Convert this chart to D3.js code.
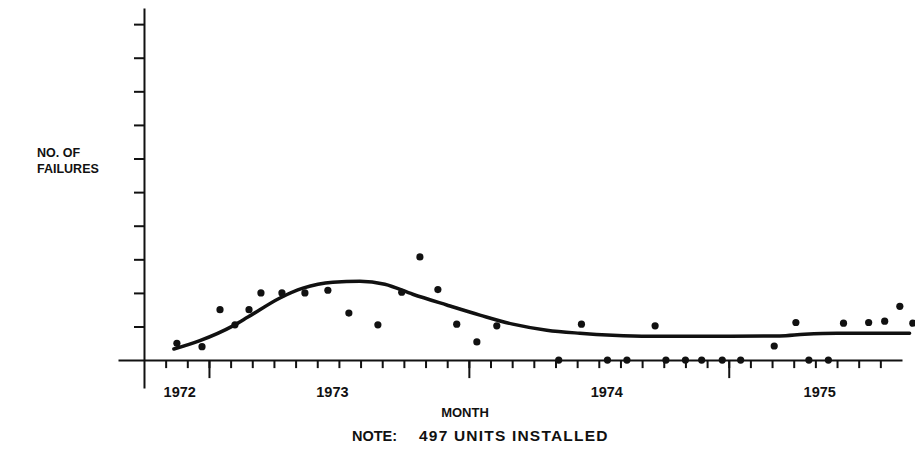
<!DOCTYPE html>
<html>
<head>
<meta charset="utf-8">
<script src="https://cdn.jsdelivr.net/npm/d3@7"></script>
<style>
  html, body { margin: 0; padding: 0; background: #fff; }
  svg { display: block; }
  text { font-family: "Liberation Sans", Arial, sans-serif; fill: #111; }
</style>
</head>
<body>
<svg id="chart" width="915" height="451"></svg>
<script>
// Monthly failure counts; month index counted from the first long tick (0 = mid 1972)
const obsMonth = [-1.48, -0.32, 0.51, 1.2, 1.85, 2.4, 3.37, 4.43, 5.49, 6.46, 7.8,
  8.9, 9.74, 10.57, 11.44, 12.37, 13.29, 16.15, 17.2, 18.4, 19.3, 20.6, 21.1,
  22.0, 22.75, 23.7, 24.55, 26.1, 27.1, 27.7, 28.6, 29.3, 30.46, 31.2, 31.9, 32.5];
const obsFailures = [0.5, 0.4, 1.5, 1.05, 1.5, 2.0, 2.0, 2.0, 2.08, 1.4, 1.05,
  2.02, 3.07, 2.1, 1.07, 0.54, 1.02, 0, 1.07, 0, 0, 1.02, 0,
  0, 0, 0, 0, 0.42, 1.12, 0, 0, 1.1, 1.12, 1.16, 1.6, 1.1];

// Smoothed trend through the monthly counts
const fitMonth = [-1.62, -0.42, 1.11, 1.8, 3.28, 4.34, 5.72, 6.97, 8.12, 9.41,
  10.98, 12.51, 14.03, 15.6, 17.12, 18.64, 20.35, 24.0, 26.35, 27.5, 29.0, 32.35];
const fitFailures = [0.33, 0.58, 1.02, 1.28, 1.85, 2.14, 2.32, 2.35, 2.26, 1.96,
  1.64, 1.34, 1.07, 0.89, 0.8, 0.74, 0.71, 0.71, 0.72, 0.77, 0.8, 0.8];

// Axis ticks and labels
const monthTicks = d3.range(-2, 32);
const yearTicks = [0, 12, 24];
const yearLabels = ["1972", "1973", "1974", "1975"];
const yearLabelMonth = [-1.35, 5.7, 18.37, 28.2];
const failureTicks = d3.range(1, 11);

const svg = d3.select("#chart");

const x = d3.scaleLinear().domain([-4.2, 32.0]).range([118, 902]);
const y = d3.scaleLinear().domain([-0.83, 10.48]).range([388, 8]);

const axisStroke = g => g.selectAll("path, line")
  .attr("stroke", "#111").attr("stroke-width", 2);

// Horizontal month axis
svg.append("g")
  .attr("transform", `translate(0,${y(0)})`)
  .call(d3.axisBottom(x).tickValues(monthTicks).tickSize(8).tickSizeOuter(0).tickFormat(""))
  .call(axisStroke);

svg.append("g")
  .attr("transform", `translate(0,${y(0)})`)
  .call(d3.axisBottom(x).tickValues(yearTicks).tickSize(18).tickSizeOuter(0).tickFormat(""))
  .call(g => g.select(".domain").remove())
  .call(axisStroke);

// Vertical failure axis
svg.append("g")
  .attr("transform", `translate(${x(-3)},0)`)
  .call(d3.axisLeft(y).tickValues(failureTicks).tickSize(10).tickSizeOuter(0).tickFormat(""))
  .call(axisStroke);

// Year labels
svg.append("g").selectAll("text")
  .data(yearLabels)
  .join("text")
  .attr("x", (d, i) => x(yearLabelMonth[i]))
  .attr("y", 397)
  .attr("text-anchor", "middle")
  .attr("font-size", 14.5)
  .attr("font-weight", "bold")
  .text(d => d);

// Trend curve
const line = d3.line()
  .x((d, i) => x(fitMonth[i]))
  .y(d => y(d))
  .curve(d3.curveMonotoneX);

svg.append("path")
  .datum(fitFailures)
  .attr("d", line)
  .attr("fill", "none")
  .attr("stroke", "#111")
  .attr("stroke-width", 3.5)
  .attr("stroke-linecap", "round");

// Observed monthly counts
svg.append("g").selectAll("circle")
  .data(obsFailures)
  .join("circle")
  .attr("cx", (d, i) => x(obsMonth[i]))
  .attr("cy", d => y(d))
  .attr("r", 3.6)
  .attr("fill", "#111");

// Titles
const yTitle = svg.append("text")
  .attr("x", 37).attr("y", 157)
  .attr("font-size", 12.5)
  .attr("font-weight", "bold");
yTitle.append("tspan").attr("x", 37).attr("dy", 0).text("NO. OF");
yTitle.append("tspan").attr("x", 37).attr("dy", 15.5).text("FAILURES");

svg.append("text")
  .attr("x", 465).attr("y", 417)
  .attr("text-anchor", "middle")
  .attr("font-size", 13)
  .attr("font-weight", "bold")
  .text("MONTH");

svg.append("text")
  .attr("x", 352).attr("y", 441)
  .attr("font-size", 14.5)
  .attr("font-weight", "bold")
  .text("NOTE:");

svg.append("text")
  .attr("x", 419).attr("y", 441)
  .attr("font-size", 15.5)
  .attr("font-weight", "bold")
  .attr("letter-spacing", 1.2)
  .text("497 UNITS INSTALLED");
</script>
</body>
</html>
